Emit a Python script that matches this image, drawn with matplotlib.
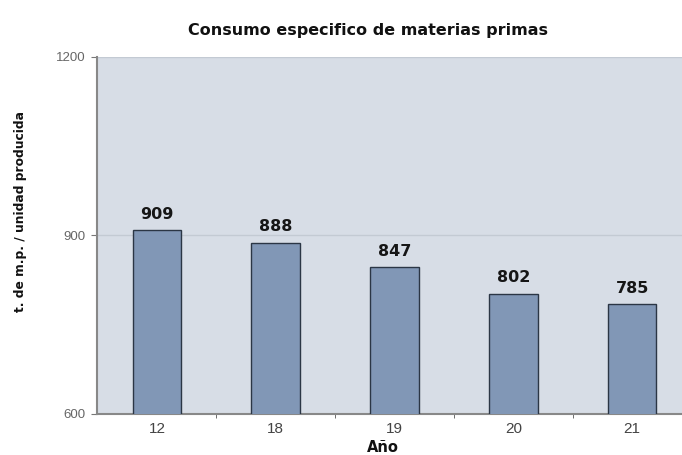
import matplotlib
matplotlib.use("Agg")
import matplotlib.pyplot as plt
from matplotlib.ticker import FixedLocator

plt.rcParams['font.family'] = ['Liberation Sans', 'DejaVu Sans']
BOLD = ['DejaVu Sans']

years = ["12", "18", "19", "20", "21"]
values = [909, 888, 847, 802, 785]
yticks = [600, 900, 1200]
title = "Consumo especifico de materias primas"
ylabel = "t. de m.p. / unidad producida"
xlabel = "Año"

W, H = 682, 455
fig = plt.figure(figsize=(W / 100, H / 100), dpi=100)
fig.patch.set_facecolor("white")
ax = fig.add_axes([97 / W, (H - 414) / H, (W - 97) / W, 357 / H])
ax.set_facecolor("#D7DDE6")

x = list(range(len(years)))
bars = ax.bar(x, values, width=0.41, color="#8197B6", edgecolor="#2B3645",
              linewidth=1.0, zorder=3)
for xi, v in zip(x, values):
    ax.annotate(f"{v}", (xi, v), xytext=(0, 6), textcoords="offset points",
                ha="center", va="bottom", fontsize=11.5, fontweight="bold",
                family=BOLD, color="#161616", zorder=4)

ax.set_ylim(600, 1200)
ax.set_xlim(-0.505, 4.42)
ax.set_yticks(yticks)
ax.yaxis.grid(True, color="#C3CAD3", linewidth=1.0, zorder=1)
ax.set_xticks(x)
ax.set_xticklabels(years)
ax.xaxis.set_minor_locator(FixedLocator([0.5, 1.5, 2.5, 3.5]))
ax.tick_params(axis="x", which="major", length=0, labelsize=11, labelcolor="#444444", pad=6)
ax.tick_params(axis="x", which="minor", length=3, color="#555555")
ax.tick_params(axis="y", length=4, color="#777777", labelsize=9.5, labelcolor="#666666", pad=4)

for s in ["top", "right"]:
    ax.spines[s].set_visible(False)
ax.spines["left"].set_color("#888888")
ax.spines["left"].set_linewidth(1.5)
ax.spines["bottom"].set_color("#888888")
ax.spines["bottom"].set_linewidth(1.5)

fig.text(368 / W, 1 - 30 / H, title, ha="center", va="center",
         fontsize=11.5, fontweight="bold", family=BOLD, color="#111111")
fig.text(21 / W, 1 - 212 / H, ylabel, ha="center", va="center", rotation=90,
         fontsize=8.8, fontweight="bold", family=BOLD, color="#111111")
fig.text(383 / W, 1 - 448 / H, xlabel, ha="center", va="center",
         fontsize=10.5, fontweight="bold", family=BOLD, color="#111111")

fig.savefig("out.png", dpi=100)
